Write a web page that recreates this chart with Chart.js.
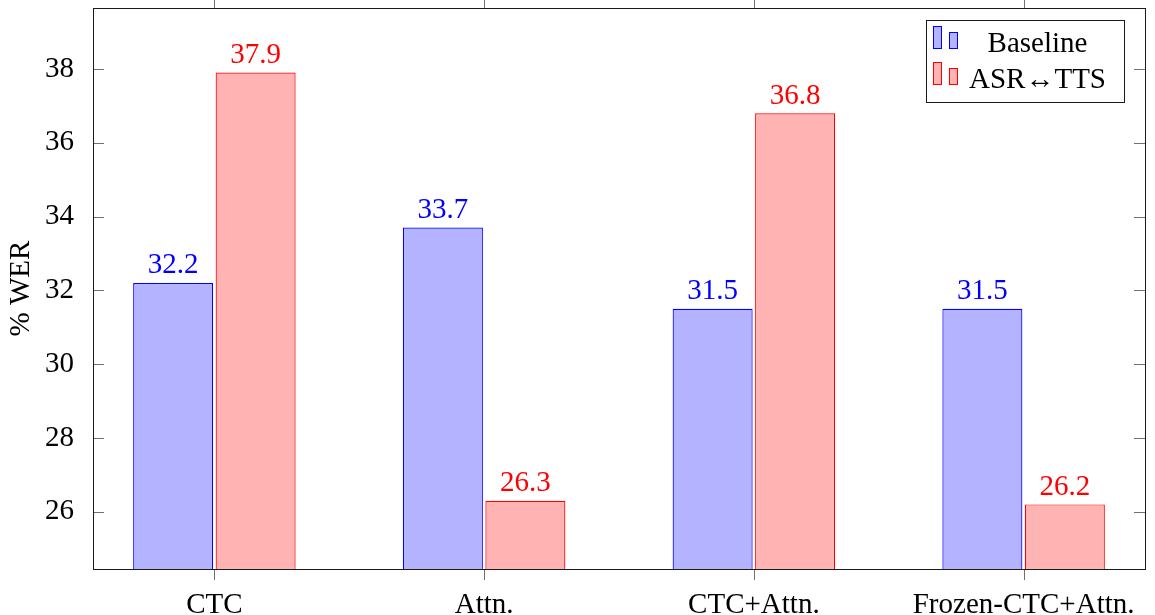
<!DOCTYPE html>
<html>
<head>
<meta charset="utf-8">
<script src="https://cdn.jsdelivr.net/npm/chart.js@4.4.1/dist/chart.umd.min.js"></script>
<style>
  html, body { margin: 0; padding: 0; background: #fff; }
  #wrap { width: 1155px; height: 615px; position: relative; }
</style>
</head>
<body>
<div id="wrap"><canvas id="werChart"></canvas></div>
<script>
const categories = ['CTC', 'Attn.', 'CTC+Attn.', 'Frozen-CTC+Attn.'];
const baselineWer = [32.2, 33.7, 31.5, 31.5];
const asrTtsWer = [37.9, 26.3, 36.8, 26.2];
const yTicks = [26, 28, 30, 32, 34, 36, 38];

const FONT = '"Liberation Serif", "Times New Roman", serif';
const FONT_SIZE = 29;

function toPoints(values) {
  return values.map((v, i) => ({ x: i, y: v }));
}

// value labels, inward ticks, frame and the pgfplots-style legend
const decorations = {
  id: 'decorations',
  afterDatasetsDraw(chart) {
    const { ctx, chartArea: a, scales } = chart;
    ctx.save();

    ctx.font = `${FONT_SIZE}px ${FONT}`;
    ctx.textAlign = 'center';
    ctx.textBaseline = 'alphabetic';
    chart.data.datasets.forEach((ds, di) => {
      ctx.fillStyle = ds.labelColor;
      chart.getDatasetMeta(di).data.forEach((bar, i) => {
        ctx.fillText(ds.data[i].y.toFixed(1), bar.x, bar.y - 9.5);
      });
    });

    ctx.strokeStyle = '#707070';
    ctx.lineWidth = 1;
    ctx.beginPath();
    yTicks.forEach(t => {
      const y = Math.round(scales.y.getPixelForValue(t)) + 0.5;
      ctx.moveTo(a.left, y); ctx.lineTo(a.left + 11, y);
      ctx.moveTo(a.right - 11, y); ctx.lineTo(a.right, y);
    });
    categories.forEach((c, i) => {
      const x = Math.round(scales.x.getPixelForValue(i)) + 0.5;
      ctx.moveTo(x, a.bottom); ctx.lineTo(x, a.bottom + 11);
      ctx.moveTo(x, a.top); ctx.lineTo(x, a.top - 11);
    });
    ctx.stroke();

    ctx.strokeStyle = '#1a1a1a';
    ctx.strokeRect(Math.round(a.left) + 0.5, Math.round(a.top) + 0.5,
      Math.round(a.right - a.left), Math.round(a.bottom - a.top));

    // legend
    const lw = 198, lh = 82;
    const lx = Math.round(a.right - 21 - lw), ly = Math.round(a.top + 12);
    ctx.fillStyle = '#fff';
    ctx.fillRect(lx, ly, lw, lh);
    ctx.strokeStyle = '#1a1a1a';
    ctx.strokeRect(lx + 0.5, ly + 0.5, lw, lh);
    chart.data.datasets.forEach((ds, di) => {
      const bottom = ly + 29 + di * 36;
      ctx.fillStyle = ds.backgroundColor;
      ctx.strokeStyle = ds.borderColor;
      ctx.fillRect(lx + 7, bottom - 23, 9, 23);
      ctx.strokeRect(lx + 7.5, bottom - 22.5, 8, 22);
      ctx.fillRect(lx + 23, bottom - 17, 9, 17);
      ctx.strokeRect(lx + 23.5, bottom - 16.5, 8, 16);
      ctx.fillStyle = '#000';
      ctx.textAlign = 'center';
      ctx.fillText(ds.label, lx + 111.5, bottom + 2.5);
    });

    ctx.restore();
  }
};

new Chart(document.getElementById('werChart'), {
  type: 'bar',
  data: {
    datasets: [
      {
        label: 'Baseline',
        data: toPoints(baselineWer),
        backgroundColor: 'rgb(179,179,255)',
        borderColor: '#0000ff',
        labelColor: '#0000ff',
        borderWidth: 1.2,
        borderSkipped: false,
      },
      {
        label: 'ASR\u2194TTS',
        data: toPoints(asrTtsWer),
        backgroundColor: 'rgb(255,179,179)',
        borderColor: '#ff0000',
        labelColor: '#ff0000',
        borderWidth: 1.2,
        borderSkipped: false,
      },
    ],
  },
  options: {
    responsive: true,
    maintainAspectRatio: false,
    animation: false,
    categoryPercentage: 0.6115,
    barPercentage: 0.97,
    layout: { padding: { top: 8, right: 10, left: 0, bottom: 0 } },
    plugins: { legend: { display: false }, tooltip: { enabled: false } },
    scales: {
      x: {
        type: 'linear',
        min: -0.45,
        max: 3.45,
        offset: false,
        grid: { display: false },
        border: { display: false },
        afterBuildTicks: s => { s.ticks = categories.map((c, i) => ({ value: i })); },
        afterFit: s => { s.height = 46; s.paddingLeft = 0; s.paddingRight = 0; },
        ticks: {
          autoSkip: false,
          maxRotation: 0,
          padding: 11,
          color: '#000',
          font: { family: FONT, size: FONT_SIZE },
          callback: v => categories[v],
        },
      },
      y: {
        min: 24.45,
        max: 39.65,
        grid: { display: false },
        border: { display: false },
        afterBuildTicks: s => { s.ticks = yTicks.map(v => ({ value: v })); },
        afterFit: s => { s.width = 93; s.paddingTop = 0; s.paddingBottom = 0; },
        ticks: {
          padding: 11,
          color: '#000',
          font: { family: FONT, size: FONT_SIZE },
        },
        title: {
          display: true,
          text: '% WER',
          color: '#000',
          padding: { top: 4, bottom: 0 },
          font: { family: FONT, size: FONT_SIZE },
        },
      },
    },
  },
  plugins: [decorations],
});
</script>
</body>
</html>
